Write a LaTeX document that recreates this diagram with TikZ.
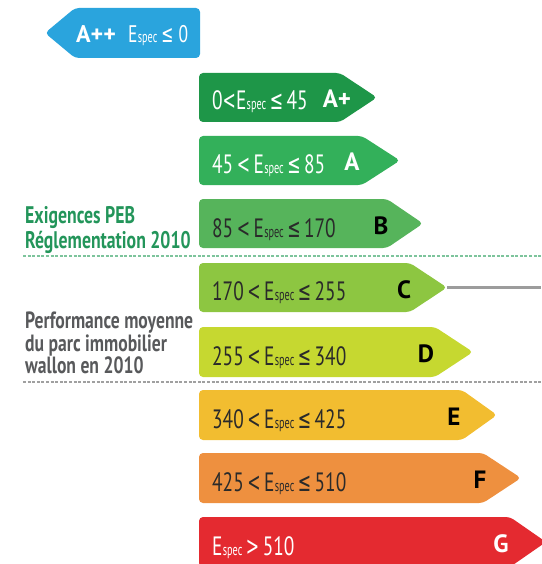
\documentclass[tikz,border=0pt]{standalone}
\usepackage{fontspec}
\setmainfont{PT Sans}
\newfontfamily\condf[FakeStretch=0.73]{PT Sans}
\newfontfamily\specf[FakeStretch=0.64]{PT Sans}
\newfontfamily\condsym[FakeStretch=0.6]{DejaVu Sans}
\newfontfamily\labfa[FakeStretch=0.74]{PT Sans}
\newfontfamily\labfb[FakeStretch=0.75]{PT Sans}
\newcommand\Esp{E\kern0.3pt{\specf\fontsize{16}{16}\selectfont spec}}
\newcommand\LEsym{{\condsym ≤}}
\newcommand\LTsym{{\condsym <}}
\newcommand\GTsym{{\condsym >}}
\newcommand\gp{\kern3.5pt}
\definecolor{cApp}{HTML}{2AA4DD}
\definecolor{cAp}{HTML}{1E9648}
\definecolor{cA}{HTML}{33B05A}
\definecolor{cB}{HTML}{56B45B}
\definecolor{cC}{HTML}{8DC641}
\definecolor{cD}{HTML}{C6D830}
\definecolor{cE}{HTML}{F2BD30}
\definecolor{cF}{HTML}{EE903F}
\definecolor{cG}{HTML}{E42A30}
\definecolor{labgreen}{HTML}{23955A}
\definecolor{labgray}{HTML}{58595B}
\definecolor{dashgreen}{HTML}{7DC49C}
\definecolor{dashgray}{HTML}{A0A0A0}
\definecolor{linegray}{HTML}{9C9C9C}
\definecolor{txtdark}{HTML}{2A2A2A}
\newcommand\ebar[5]{\fill[#5, rounded corners=4pt] (199,#1) -- (#3,#1) -- (#4,{(#1+#2)/2}) -- (#3,#2) -- (199,#2) -- cycle;}
\begin{document}
\begin{tikzpicture}[x=1pt,y=-1pt,
  rangetxt/.style={anchor=base west, inner sep=0pt, font=\condf\fontsize{26.5}{26.5}\selectfont},
  gradetxt/.style={anchor=base, inner sep=0pt, font=\bfseries\fontsize{25}{25}\selectfont},
  labA/.style={anchor=base west, inner sep=0pt, labgreen, font=\labfa\bfseries\fontsize{24}{24}\selectfont},
  labB/.style={anchor=base west, inner sep=0pt, labgray, font=\labfb\bfseries\fontsize{23.5}{23.5}\selectfont},
  sepline/.style={line width=1.6pt, dash pattern=on 3pt off 1.6pt}]
\useasboundingbox (0,0) rectangle (541,564);
% separators
\coordinate (d1a) at (23,256); \coordinate (d1b) at (541,256);
\coordinate (d2a) at (23,382); \coordinate (d2b) at (541,382);
\draw[sepline, dashgreen] (d1a) -- (d1b);
\draw[sepline, dashgray] (d2a) -- (d2b);
% A++
\fill[cApp, rounded corners=4pt] (75,8) -- (200,8) -- (200,58) -- (75,58) -- (45,33) -- cycle;
\node[gradetxt, white, anchor=base west, font=\bfseries\fontsize{24}{24}\selectfont] (gApp) at (76,43) {A++};
\node[rangetxt, white, font=\condf\fontsize{24}{24}\selectfont] (rApp) at (128,43) {\Esp\kern4pt\LEsym\kern5pt 0};
% bars
\ebar{73}{122}{340}{377}{cAp}
\ebar{136}{185}{362}{400}{cA}
\ebar{199}{248}{387}{423}{cB}
\ebar{263}{312}{410}{447}{cC}
\ebar{327}{377}{435}{473}{cD}
\ebar{390}{440}{462}{497}{cE}
\ebar{453}{503}{483}{521}{cF}
\ebar{517}{567}{510}{546}{cG}
% range texts
\node[rangetxt, white] (rAp) at (212,110) {0\LTsym\Esp\gp\LEsym\gp 45};
\node[rangetxt, white] (rA) at (212,173) {45\gp\LTsym\gp\Esp\gp\LEsym\gp 85};
\node[rangetxt, txtdark] (rB) at (212,237) {85\gp\LTsym\gp\Esp\gp\LEsym\gp 170};
\node[rangetxt, txtdark] (rC) at (212,300.5) {170\gp\LTsym\gp\Esp\gp\LEsym\gp 255};
\node[rangetxt, txtdark] (rD) at (212,365) {255\gp\LTsym\gp\Esp\gp\LEsym\gp 340};
\node[rangetxt, txtdark] (rE) at (212,428) {340\gp\LTsym\gp\Esp\gp\LEsym\gp 425};
\node[rangetxt, txtdark] (rF) at (212,491) {425\gp\LTsym\gp\Esp\gp\LEsym\gp 510};
\node[rangetxt, white] (rG) at (212,555) {\Esp\gp\GTsym\gp 510};
% grade letters
\node[gradetxt, white] (gAp) at (337,108) {A+};
\node[gradetxt, white] (gA) at (352,171) {A};
\node[gradetxt, black] (gB) at (381,234) {B};
\node[gradetxt, black] (gC) at (404,298) {C};
\node[gradetxt, black] (gD) at (426,362.5) {D};
\node[gradetxt, black] (gE) at (454,425.5) {E};
\node[gradetxt, black] (gF) at (480,488.5) {F};
\node[gradetxt, white] (gG) at (501,552.5) {G};
% C marker line
\coordinate (Ctip) at (447,287.5);
\coordinate (Cend) at (541,287.5);
\draw[line width=2.5pt, linegray] (Ctip) -- (Cend);
% side labels
\node[labA] (lPEB1) at (25,223) {Exigences PEB};
\node[labA] (lPEB2) at (25,248) {Réglementation 2010};
\node[labB] (lPerf1) at (25,328.5) {Performance moyenne};
\node[labB] (lPerf2) at (25,351) {du parc immobilier};
\node[labB] (lPerf3) at (25,373.5) {wallon en 2010};
\end{tikzpicture}
\end{document}
